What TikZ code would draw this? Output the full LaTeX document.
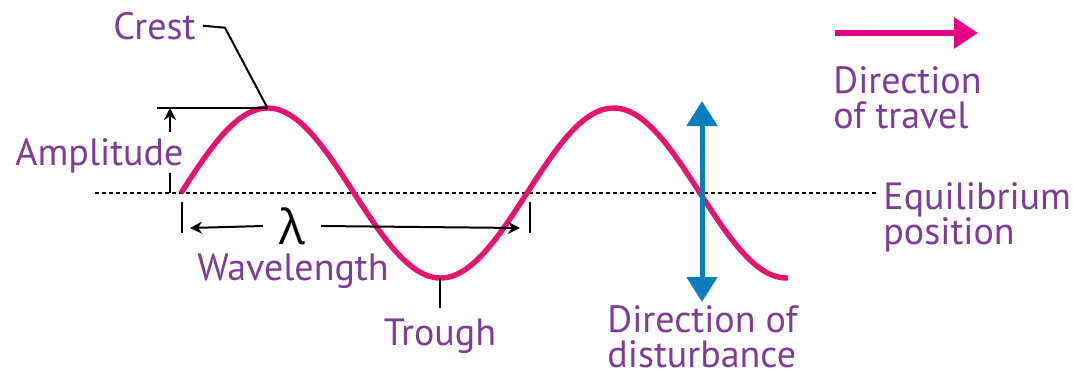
\documentclass[tikz,border=0pt]{standalone}
\usepackage{fontspec}
\setmainfont{PT Sans}
\newfontfamily\greekfont{Open Sans}
\usetikzlibrary{arrows.meta,positioning}
\definecolor{wavepink}{RGB}{230,20,110}
\definecolor{travelpink}{RGB}{225,0,135}
\definecolor{distblue}{RGB}{10,125,190}
\definecolor{labelpurple}{RGB}{125,60,150}
\tikzset{
  lbl/.style={text=labelpurple,font=\fontsize{19}{17.5}\selectfont,inner sep=0pt,align=left},
  guide/.style={black,line width=1pt},
  guidearrow/.style={guide,-{Stealth[length=6pt,width=6pt]}},
  wave/.style={wavepink,line width=2.7pt},
  equil/.style={black,line width=0.9pt,dash pattern=on 2pt off 1.5pt},
}

\begin{document}
\begin{tikzpicture}[x=0.5pt,y=-0.5pt]
    \useasboundingbox (0,0) rectangle (1073,377);
    % Ligevaegtslinje
    \coordinate (eqL) at (95,193);
    \coordinate (eqR) at (878,193);
    \draw[equil] (eqL) -- (eqR);
    \node[lbl,anchor=base west] (equillbl) at (883,244) {Equilibrium\\position};
    % Boelgen
    \draw[wave] plot[domain=181:788,samples=160] (\x,{193-85*sin((\x-181)/346*360)});
    \coordinate (crest) at (267.5,108);
    \coordinate (trough) at (440,278);
    % Top
    \node[lbl,anchor=base west] (crestlbl) at (113,39) {Crest};
    \draw[guide] (crestlbl.east) ++(7,0) -- ++(22,2) -- (crest);
    % Amplitude
    \node[lbl,anchor=base west] (amplbl) at (15,165) {Amplitude};
    \coordinate (ampbase) at (170,193);
    \draw[guide] (157,108) -- (crest);
    \draw[guidearrow] ([yshift=3pt]amplbl.north -| ampbase) -- (ampbase |- crest);
    \draw[guide] (amplbl.south -| ampbase) -- (ampbase);
    % Boelgelaengde
    \coordinate (wlL) at (182,228);
    \coordinate (wlR) at (530,228);
    \draw[guide] (wlL) ++(0,-26) -- ++(0,31);
    \draw[guide] (wlR) ++(0,-26) -- ++(0,31);
    \node[font=\greekfont\fontsize{24}{24}\selectfont,inner ysep=0pt,inner xsep=8pt] (lambda) at (292,226) {λ};
    \draw[guidearrow] (lambda.west) -- ([xshift=4pt]wlL);
    \draw[guidearrow] (lambda.east) -- ([xshift=-5pt]wlR);
    \node[lbl,anchor=base west] (wavelbl) at (197,280) {Wavelength};
    % Dal
    \node[lbl,anchor=base] (troughlbl) at (440,345) {Trough};
    \draw[guide] (trough) -- ([yshift=5pt]troughlbl.north);
    % Forstyrrelsens retning
    \coordinate (distTop) at (702,101);
    \coordinate (distBot) at (702,302);
    \draw[distblue,line width=2.5pt,{Triangle[length=12.5pt,width=15pt]}-{Triangle[length=12.5pt,width=15pt]}] (distBot) -- (distTop);
    \node[lbl,anchor=base west] (distlbl) at (607,367) {Direction of\\disturbance};
    % Udbredelsesretning
    \coordinate (travelA) at (835,33);
    \coordinate (travelB) at (978,33);
    \draw[travelpink,line width=3pt,-{Triangle[length=12pt,width=15pt]}] (travelA) -- (travelB);
    \node[lbl,anchor=base west] (travellbl) at (833,128) {Direction\\of travel};
\end{tikzpicture}
\end{document}
